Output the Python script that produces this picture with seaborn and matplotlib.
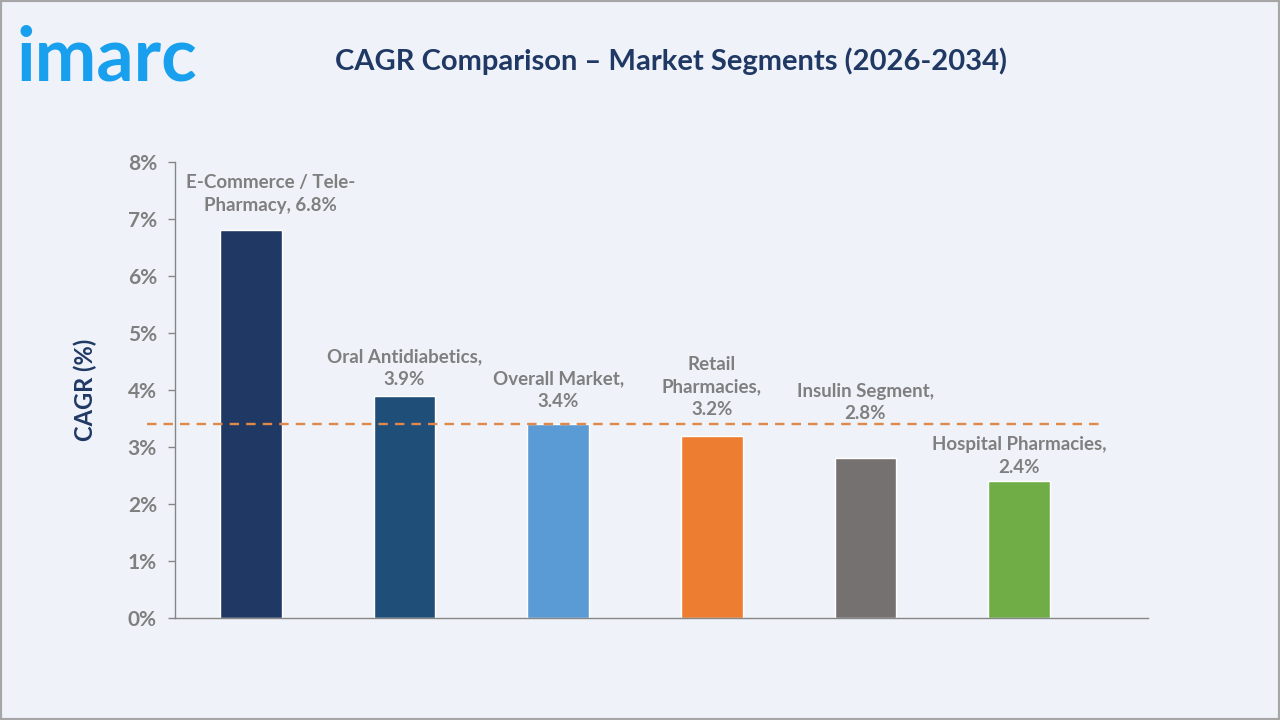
import matplotlib
matplotlib.use("Agg")
import matplotlib.pyplot as plt
import matplotlib.patches as patches
from matplotlib.ticker import FuncFormatter
import seaborn as sns
import pandas as pd

segments = ["E-Commerce / Tele-Pharmacy", "Oral Antidiabetics", "Overall Market",
            "Retail Pharmacies", "Insulin Segment", "Hospital Pharmacies"]
cagr = [6.8, 3.9, 3.4, 3.2, 2.8, 2.4]
labels = ["E-Commerce / Tele-\nPharmacy, 6.8%", "Oral Antidiabetics,\n3.9%", "Overall Market,\n3.4%",
          "Retail\nPharmacies,\n3.2%", "Insulin Segment,\n2.8%", "Hospital Pharmacies,\n2.4%"]
bar_colors = ["#203864", "#1f4e79", "#5b9bd5", "#ed7d31", "#767171", "#70ad47"]
reference_value = 3.4  # overall market line
y_ticks = [0, 1, 2, 3, 4, 5, 6, 7, 8]

# label offsets from the bar top, in points
label_dx = [14, 0, 0, 0, 0, 0]
label_pad = [12, 5.5, 10.5, 13, 26, 4]

sns.set_theme(style="white")
plt.rcParams['font.family'] = ['Lato', 'DejaVu Sans']

BG = "#eff3f9"
GRAY = "#7f7f7f"
NAVY = "#203864"

fig = plt.figure(figsize=(12.8, 7.2), dpi=100, facecolor=BG)
ax = fig.add_axes([0.1367, 0.1417, 0.7602, 0.6333])
ax.set_facecolor(BG)

df = pd.DataFrame({"segment": segments, "cagr": cagr})
sns.barplot(data=df, x="segment", y="cagr", hue="segment", palette=bar_colors,
            width=0.4, legend=False, ax=ax, saturation=1)

ax.set_xlim(-0.495, 5.84)
ax.set_ylim(0, 8)
ax.set_yticks(y_ticks)
ax.yaxis.set_major_formatter(FuncFormatter(lambda v, p: f"{v:.0f}%"))
ax.tick_params(axis="y", colors="#868686", labelcolor=GRAY, labelsize=15,
               length=5, width=1, direction="out", left=True, pad=8)
for t in ax.get_yticklabels():
    t.set_fontweight("bold")
ax.set_xticks([])
ax.set_xlabel("")
ax.set_ylabel("CAGR (%)", fontsize=17, fontweight="bold", color=NAVY)
ax.yaxis.set_label_coords(-0.080, 0.5)

for s in ["top", "right"]:
    ax.spines[s].set_visible(False)
for s in ["left", "bottom"]:
    ax.spines[s].set_color("#868686")
    ax.spines[s].set_linewidth(1)

# overall market reference line
ax.plot([-0.68, 5.52], [reference_value, reference_value], color="#e0884a",
        linestyle=(0, (4, 3)), linewidth=1.7, clip_on=False, zorder=1)

for i, (v, lab) in enumerate(zip(cagr, labels)):
    ax.annotate(lab, xy=(i, v), xytext=(label_dx[i], label_pad[i]), textcoords="offset points",
                ha="center", va="bottom", fontsize=13.5, fontweight="bold",
                color=GRAY, linespacing=1.38)

fig.text(0.524, 0.915, "CAGR Comparison \u2013 Market Segments (2026-2034)",
         ha="center", va="center", fontsize=21, fontweight="bold", color=NAVY)

# logo
fig.text(0.013, 0.918, "imarc", ha="left", va="center", fontsize=53,
         fontweight="bold", color="#18a0ef")

# outer frame
fig.patches.append(patches.Rectangle((0, 0), 1, 1, transform=fig.transFigure,
                                     fill=False, edgecolor="#a6a6a6", linewidth=3))

fig.savefig("out.png", dpi=100, facecolor=BG)
